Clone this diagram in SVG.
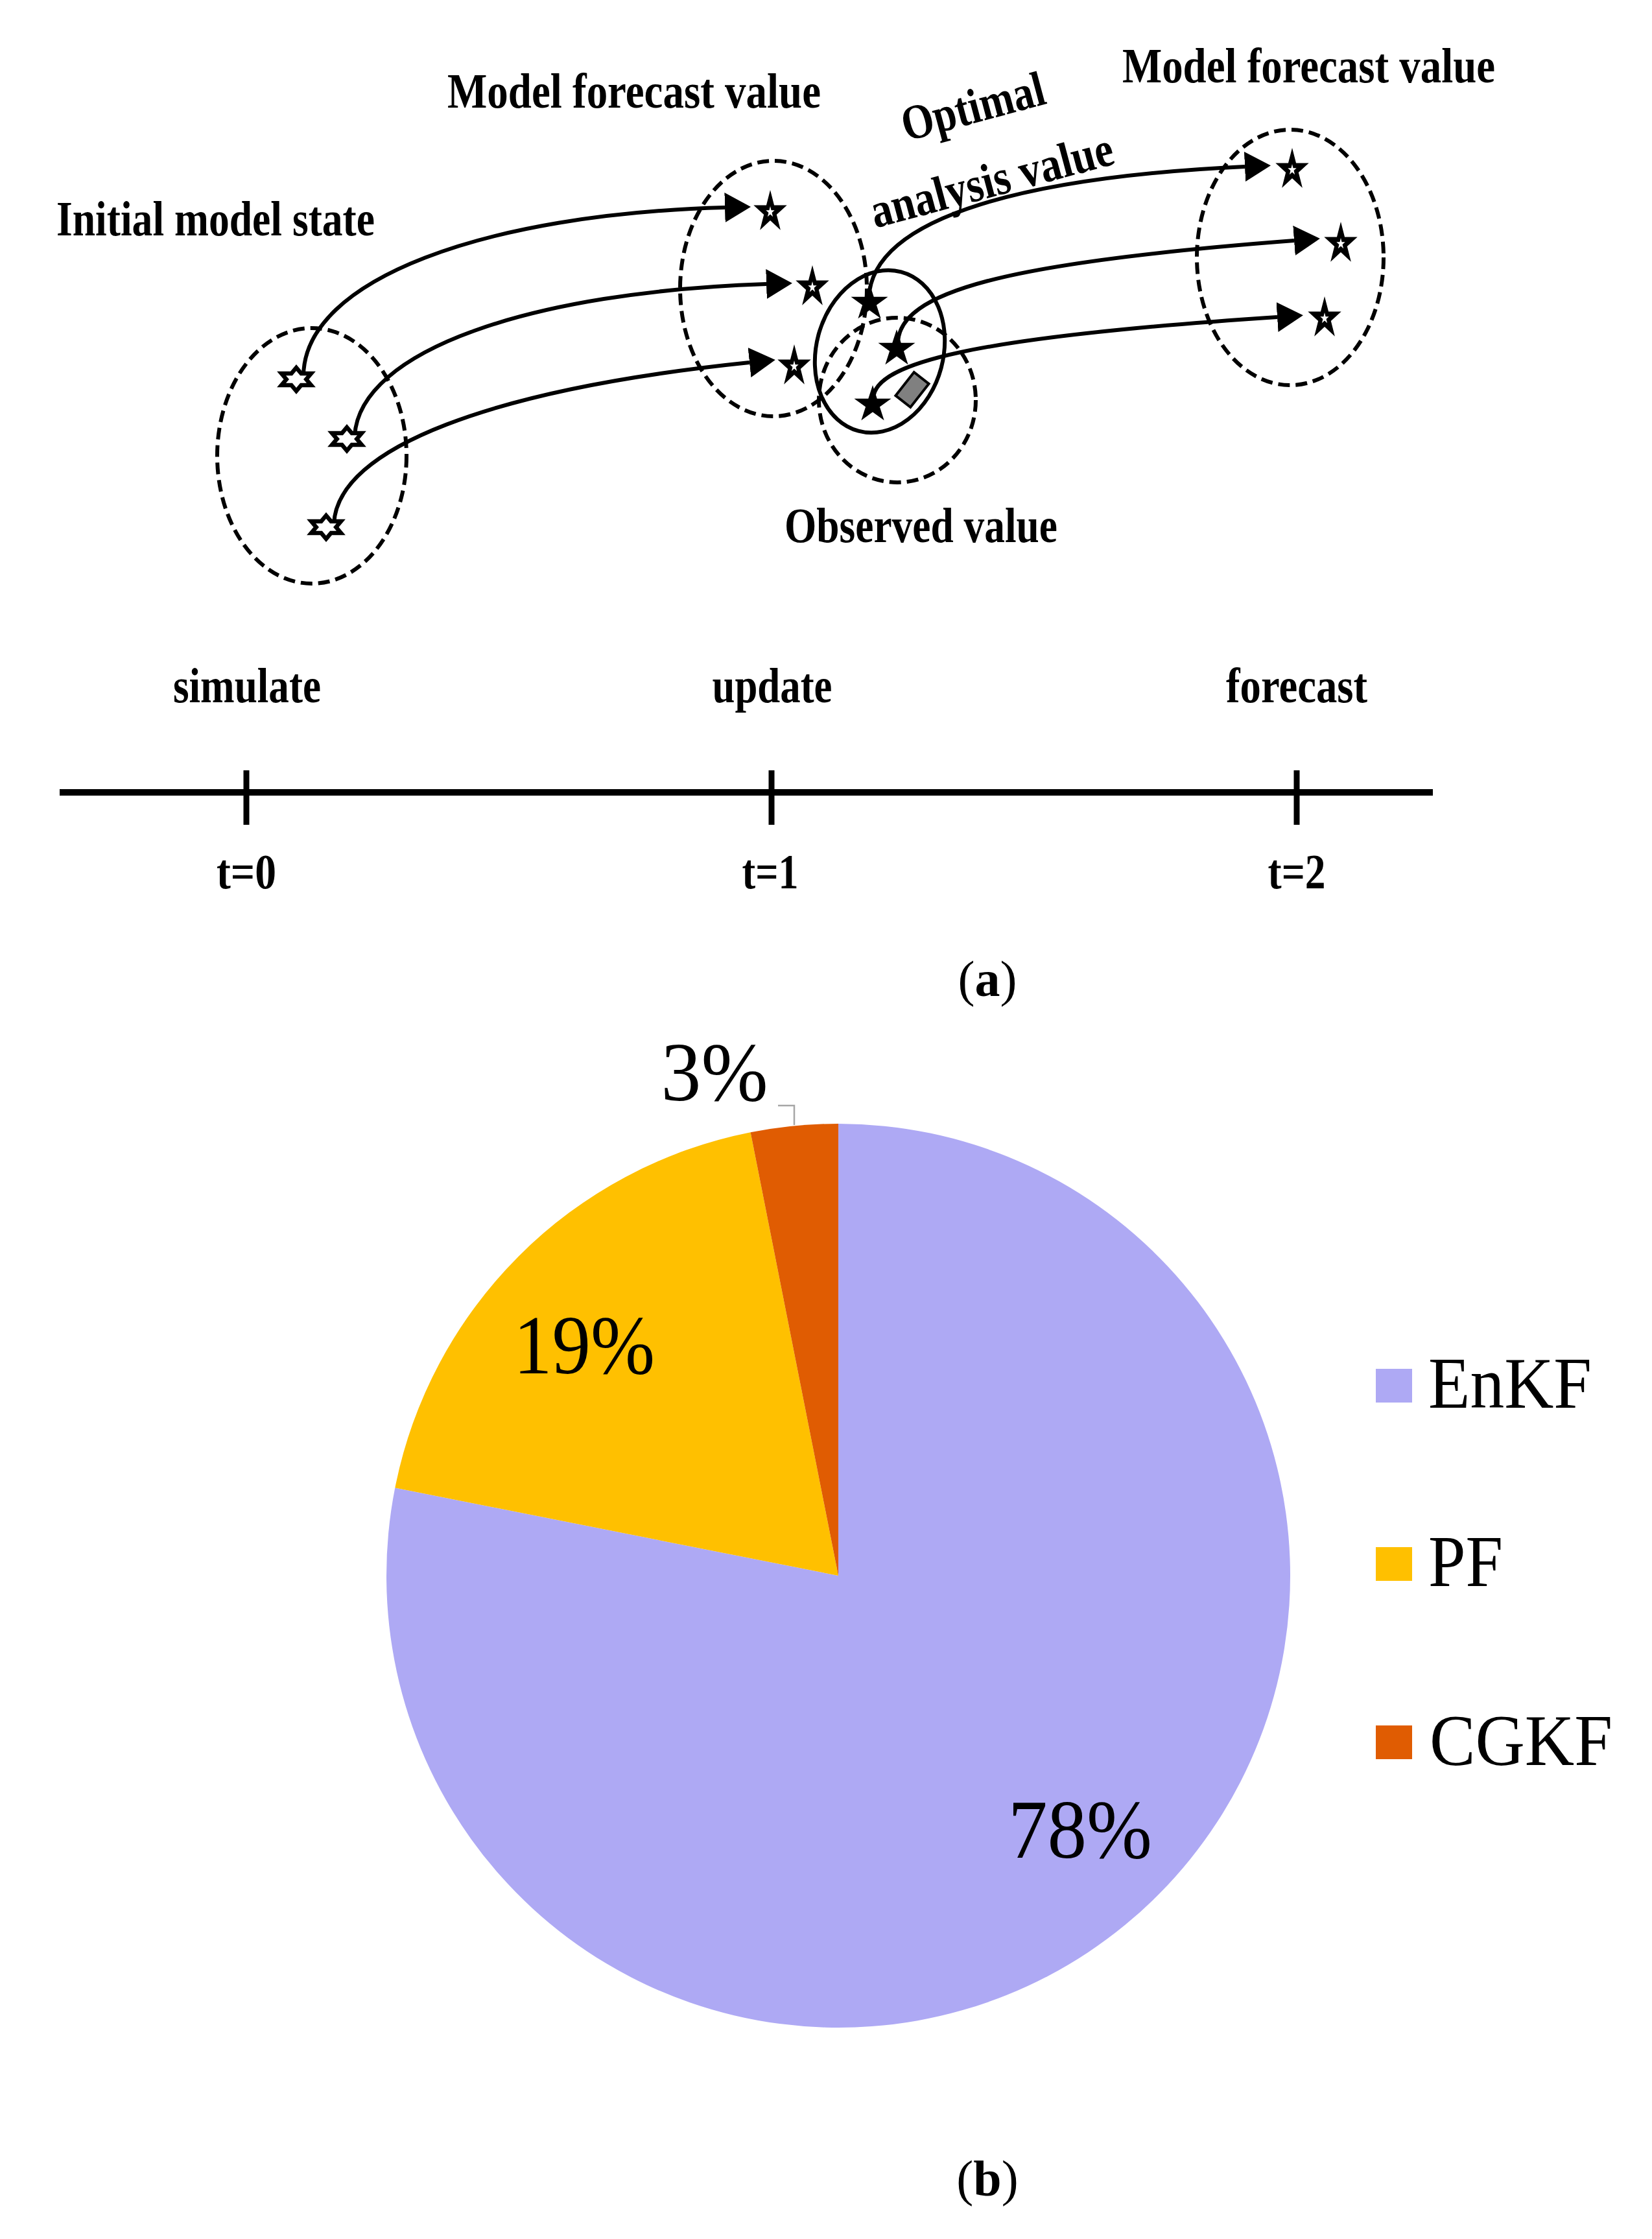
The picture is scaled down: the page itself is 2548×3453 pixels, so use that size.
<svg xmlns="http://www.w3.org/2000/svg" width="2548" height="3453" viewBox="0 0 2548 3453">
<style>
.dash{fill:none;stroke:#000;stroke-width:6;stroke-dasharray:18 9}
.solid{fill:none;stroke:#000;stroke-width:6}
.curve{fill:none;stroke:#000;stroke-width:6;marker-end:url(#arr)}
.lbl{font-family:'Liberation Serif','Times New Roman',serif;font-weight:bold;font-size:76px;fill:#000}
.mid{text-anchor:middle}
.pct{font-family:'Liberation Serif','Times New Roman',serif;font-size:130px;fill:#000}
.leg{font-family:'Liberation Serif','Times New Roman',serif;font-size:112px;fill:#000}
.cap{font-family:'Liberation Serif','Times New Roman',serif;font-size:78px;fill:#000;text-anchor:middle}
.axis{stroke:#000;fill:none}
</style>
<defs>
<marker id="arr" markerUnits="userSpaceOnUse" viewBox="0 0 40 46" refX="0" refY="23" markerWidth="40" markerHeight="46" orient="auto"><path d="M0,0 L40,23 L0,46 Z" fill="#000"/></marker>
<polygon id="hex" points="0,-18 7.6,-9 22.9,-9 15.3,0 22.9,9 7.6,9 0,18 -7.6,9 -22.9,9 -15.3,0 -22.9,-9 -7.6,-9" fill="#fff" stroke="#000" stroke-width="6.5"/>
<g id="hstar">
<polygon points="0,-34 6.06,-10.6 25.68,-10.6 9.81,4.05 15.87,27.7 0,13.1 -15.87,27.7 -9.81,4.05 -25.68,-10.6 -6.06,-10.6" fill="#000"/>
<polygon points="0,-8.9 1.57,-2.75 6.66,-2.75 2.54,1.05 4.11,7.19 0,3.4 -4.11,7.19 -2.54,1.05 -6.66,-2.75 -1.57,-2.75" fill="#fff"/>
</g>
<polygon id="fstar" points="0,-30 6.74,-9.27 28.53,-9.27 10.9,3.54 17.63,24.27 0,11.46 -17.63,24.27 -10.9,3.54 -28.53,-9.27 -6.74,-9.27" fill="#000"/>
</defs>
<rect width="2548" height="3453" fill="#fff"/>

<!-- (a) ensemble diagram -->
<g id="ellipses">
<ellipse id="ens-t0" class="dash" cx="481" cy="703" rx="146" ry="197"/>
<ellipse id="ens-t1" class="dash" cx="1193" cy="445" rx="144" ry="197"/>
<ellipse id="ens-t2" class="dash" cx="1990" cy="397" rx="144" ry="197"/>
<ellipse id="obs-ellipse" class="dash" cx="1384" cy="617" rx="121" ry="127"/>
<ellipse id="analysis-ellipse" class="solid" cx="1357" cy="542" rx="98" ry="127" transform="rotate(15 1357 542)"/>
</g>

<g id="connectors">
<path class="curve" d="M468,580 C469,430 750,330 1118,320"/>
<path class="curve" d="M547,672 C555,540 820,450 1182,438"/>
<path class="curve" d="M515,808 C520,690 760,600 1156,559"/>
<path class="curve" d="M1340,460 C1345,330 1600,272 1920,257"/>
<path class="curve" d="M1385,530 C1385,450 1550,405 1996,371"/>
<path class="curve" d="M1347,615 C1347,560 1500,520 1970,489"/>
</g>

<g id="initial-stars">
<use href="#hex" transform="translate(457,585)"/>
<use href="#hex" transform="translate(535,677)"/>
<use href="#hex" transform="translate(503,813)"/>
</g>
<g id="forecast-t1-stars">
<use href="#hstar" transform="translate(1188,327)"/>
<use href="#hstar" transform="translate(1253,443)"/>
<use href="#hstar" transform="translate(1225,565)"/>
</g>
<g id="analysis-stars">
<use href="#fstar" transform="translate(1341,467)"/>
<use href="#fstar" transform="translate(1383,538)"/>
<use href="#fstar" transform="translate(1346,624)"/>
</g>
<g id="observation">
<rect x="-14.5" y="-23" width="29" height="46" fill="#808080" stroke="#000" stroke-width="4" transform="translate(1407,601) rotate(38)"/>
</g>
<g id="forecast-t2-stars">
<use href="#hstar" transform="translate(1993,262)"/>
<use href="#hstar" transform="translate(2068,376)"/>
<use href="#hstar" transform="translate(2043,491)"/>
</g>

<g id="labels-a">
<text class="lbl" x="87" y="363" textLength="491" lengthAdjust="spacingAndGlyphs">Initial model state</text>
<text class="lbl" x="690" y="166" textLength="576" lengthAdjust="spacingAndGlyphs">Model forecast value</text>
<text class="lbl" x="1731" y="127" textLength="575" lengthAdjust="spacingAndGlyphs">Model forecast value</text>
<text class="lbl" x="1398" y="218" textLength="226" lengthAdjust="spacingAndGlyphs" transform="rotate(-15 1398 218)">Optimal</text>
<text class="lbl" x="1350" y="352" textLength="385" lengthAdjust="spacingAndGlyphs" transform="rotate(-15 1350 352)">analysis value</text>
<text class="lbl" x="1210" y="836" textLength="421" lengthAdjust="spacingAndGlyphs">Observed value</text>
</g>

<g id="timeline">
<line class="axis" x1="92" y1="1222" x2="2210" y2="1222" stroke-width="10"/>
<line class="axis" x1="380" y1="1188" x2="380" y2="1272" stroke-width="9"/>
<line class="axis" x1="1190" y1="1188" x2="1190" y2="1272" stroke-width="9"/>
<line class="axis" x1="2000" y1="1188" x2="2000" y2="1272" stroke-width="9"/>
<text class="lbl mid" x="381" y="1083" textLength="228" lengthAdjust="spacingAndGlyphs">simulate</text>
<text class="lbl mid" x="1191" y="1083" textLength="185" lengthAdjust="spacingAndGlyphs">update</text>
<text class="lbl mid" x="2000" y="1083" textLength="218" lengthAdjust="spacingAndGlyphs">forecast</text>
<text class="lbl mid" x="380" y="1370" textLength="92" lengthAdjust="spacingAndGlyphs">t=0</text>
<text class="lbl mid" x="1188" y="1370" textLength="87" lengthAdjust="spacingAndGlyphs">t=1</text>
<text class="lbl mid" x="2000" y="1370" textLength="89" lengthAdjust="spacingAndGlyphs">t=2</text>
</g>

<text class="cap" x="1523" y="1536">(<tspan font-weight="bold">a</tspan>)</text>

<!-- (b) pie chart -->
<g id="pie">
<path id="slice-enkf" d="M1293,2430 L1293,1733 A697,697 0 1 1 609.3,2294.6 Z" fill="#AEA9F4"/>
<path id="slice-pf" d="M1293,2430 L609.3,2294.6 A697,697 0 0 1 1157.6,1746.3 Z" fill="#FFC000"/>
<path id="slice-cgkf" d="M1293,2430 L1157.6,1746.3 A697,697 0 0 1 1293,1733 Z" fill="#E05C02"/>
<polyline points="1200,1705 1225,1705 1225,1735" fill="none" stroke="#A6A6A6" stroke-width="2.5"/>
<text class="pct mid" x="1102" y="1697" textLength="165" lengthAdjust="spacingAndGlyphs">3%</text>
<text class="pct mid" x="901" y="2118" textLength="218" lengthAdjust="spacingAndGlyphs">19%</text>
<text class="pct mid" x="1666" y="2865" textLength="222" lengthAdjust="spacingAndGlyphs">78%</text>
</g>

<g id="legend">
<rect x="2122" y="2111" width="56" height="52" fill="#AEA9F4"/>
<text class="leg" x="2203" y="2171" textLength="252" lengthAdjust="spacingAndGlyphs">EnKF</text>
<rect x="2122" y="2386" width="56" height="52" fill="#FFC000"/>
<text class="leg" x="2203" y="2446" textLength="115" lengthAdjust="spacingAndGlyphs">PF</text>
<rect x="2122" y="2661" width="56" height="52" fill="#E05C02"/>
<text class="leg" x="2205" y="2722" textLength="282" lengthAdjust="spacingAndGlyphs">CGKF</text>
</g>

<text class="cap" x="1523" y="3386">(<tspan font-weight="bold">b</tspan>)</text>
</svg>
